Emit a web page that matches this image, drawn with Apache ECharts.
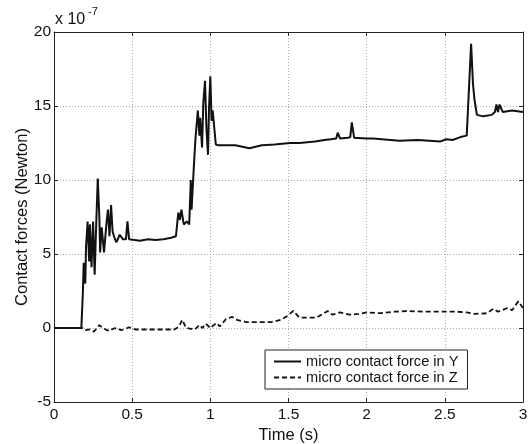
<!DOCTYPE html>
<html>
<head>
<meta charset="utf-8">
<script src="https://cdn.jsdelivr.net/npm/echarts@6/dist/echarts.min.js"></script>
<style>
html,body{margin:0;padding:0;background:#fff;}
#chart{width:528px;height:444px;}
</style>
</head>
<body>
<div id="chart"></div>
<script>
// Values in units of 1e-7 N
const seriesNames = ["micro contact force in Y", "micro contact force in Z"];
const xTicks = [0, 0.5, 1, 1.5, 2, 2.5, 3];
const yTicks = [-5, 0, 5, 10, 15, 20];

const yTime = [0, 0.175, 0.185, 0.19, 0.2, 0.205, 0.215, 0.225, 0.23, 0.24, 0.25, 0.26, 0.27, 0.28, 0.29, 0.295, 0.305, 0.32, 0.335, 0.345, 0.355, 0.365, 0.375, 0.39, 0.4, 0.42, 0.44, 0.46, 0.47, 0.48, 0.55, 0.6, 0.65, 0.7, 0.75, 0.78, 0.795, 0.805, 0.815, 0.83, 0.85, 0.865, 0.875, 0.88, 0.885, 0.895, 0.905, 0.92, 0.93, 0.935, 0.947, 0.955, 0.966, 0.975, 0.985, 0.992, 1.0, 1.008, 1.015, 1.035, 1.05, 1.1, 1.16, 1.25, 1.33, 1.41, 1.51, 1.57, 1.67, 1.73, 1.77, 1.805, 1.815, 1.83, 1.88, 1.895, 1.905, 1.92, 2.0, 2.04, 2.21, 2.33, 2.47, 2.51, 2.55, 2.6, 2.64, 2.652, 2.668, 2.68, 2.69, 2.705, 2.745, 2.8, 2.82, 2.83, 2.84, 2.85, 2.87, 2.93, 3.0];
const yForce = [0, 0, 2.5, 4.4, 3.0, 5.5, 7.2, 4.5, 7.0, 4.1, 7.2, 3.6, 7.0, 10.1, 7.5, 5.1, 6.8, 5.1, 7.0, 8.0, 6.2, 8.3, 6.5, 6.0, 5.8, 6.3, 6.0, 6.0, 7.2, 6.0, 5.9, 6.0, 5.95, 6.0, 6.1, 6.2, 7.8, 7.3, 8.0, 7.0, 7.2, 7.0, 10.0, 8.0, 9.0, 11.0, 12.8, 14.7, 13.0, 14.2, 12.2, 15.2, 16.7, 13.5, 11.7, 15.0, 17.0, 14.0, 14.7, 12.4, 12.35, 12.35, 12.35, 12.15, 12.35, 12.4, 12.5, 12.5, 12.6, 12.7, 12.75, 12.8, 13.2, 12.8, 12.85, 12.9, 13.9, 12.85, 12.8, 12.8, 12.65, 12.7, 12.6, 12.75, 12.7, 12.9, 13.0, 13.1, 19.2, 16.5, 15.4, 14.4, 14.3, 14.4, 14.6, 15.1, 14.6, 15.1, 14.6, 14.7, 14.6];

const zTime = [0, 0.18, 0.2, 0.23, 0.255, 0.29, 0.31, 0.35, 0.38, 0.4, 0.43, 0.46, 0.48, 0.52, 0.6, 0.7, 0.77, 0.8, 0.82, 0.845, 0.9, 0.93, 0.95, 0.97, 1.0, 1.04, 1.06, 1.1, 1.14, 1.17, 1.23, 1.32, 1.39, 1.45, 1.49, 1.53, 1.57, 1.68, 1.75, 1.78, 1.83, 1.89, 1.95, 2.0, 2.09, 2.18, 2.26, 2.36, 2.45, 2.51, 2.58, 2.64, 2.69, 2.77, 2.81, 2.84, 2.9, 2.93, 2.97, 3.0];
const zForce = [0, 0, -0.15, -0.1, -0.25, 0.2, 0, -0.2, -0.05, 0, -0.15, -0.05, 0.05, -0.1, -0.1, -0.1, -0.1, 0.1, 0.55, 0, -0.1, 0.2, 0, 0.3, 0, 0.35, 0.1, 0.6, 0.75, 0.55, 0.4, 0.4, 0.4, 0.55, 0.8, 1.15, 0.7, 0.7, 1.15, 0.9, 1.05, 0.9, 0.95, 1.05, 1.0, 1.1, 1.15, 1.1, 1.1, 1.1, 1.1, 1.05, 0.95, 1.0, 1.3, 1.1, 1.35, 1.2, 1.8, 1.35];

const FONT = "Liberation Sans, Arial, sans-serif";
const pairs = (t, v) => t.map((x, i) => [x, v[i]]);

const chart = echarts.init(document.getElementById('chart'), null, {renderer: 'canvas'});

const baseAxis = {
  type: 'value',
  axisLine: {show: true, onZero: false, lineStyle: {color: '#222', width: 1}},
  axisTick: {show: true, inside: true, length: 4, lineStyle: {color: '#222'}},
  splitLine: {show: false},
  axisLabel: {show: false},
};

chart.setOption({
  backgroundColor: '#fff',
  animation: false,
  grid: {left: 54, right: 5, top: 32, bottom: 42, containLabel: false, outerBoundsMode: 'none'},
  xAxis: [
    Object.assign({}, baseAxis, {
      position: 'bottom', min: xTicks[0], max: xTicks[xTicks.length - 1], interval: 0.5,
      name: 'Time (s)', nameLocation: 'middle', nameGap: 25, nameMoveOverlap: false,
      nameTextStyle: {fontFamily: FONT, fontSize: 16.5, color: '#111'},
      axisLabel: {show: true, fontFamily: FONT, fontSize: 15.5, color: '#111', margin: 5},
      splitLine: {show: true, lineStyle: {type: [1, 2], color: '#aaa', width: 1}}
    }),
    Object.assign({}, baseAxis, {
      position: 'top', min: xTicks[0], max: xTicks[xTicks.length - 1], interval: 0.5
    })
  ],
  yAxis: [
    Object.assign({}, baseAxis, {
      position: 'left', min: yTicks[0], max: yTicks[yTicks.length - 1], interval: 5,
      name: 'Contact forces (Newton)', nameLocation: 'middle', nameGap: 23, nameMoveOverlap: false,
      nameTextStyle: {fontFamily: FONT, fontSize: 16.5, color: '#111'},
      axisLabel: {show: true, fontFamily: FONT, fontSize: 15.5, color: '#111', margin: 3},
      splitLine: {show: true, lineStyle: {type: [1, 2], color: '#aaa', width: 1}}
    }),
    Object.assign({}, baseAxis, {
      position: 'right', min: yTicks[0], max: yTicks[yTicks.length - 1], interval: 5
    })
  ],
  legend: {
    orient: 'vertical',
    left: 265, top: 350,
    backgroundColor: '#fff',
    borderColor: '#222', borderWidth: 1,
    padding: [4, 9, 4, 8],
    itemWidth: 27, itemHeight: 14, itemGap: 1,
    itemStyle: {opacity: 0, borderWidth: 0},
    textStyle: {fontFamily: FONT, fontSize: 14.6, color: '#111'},
    data: seriesNames
  },
  graphic: [
    {type: 'text', left: 55, top: 12, style: {text: 'x 10', fontFamily: FONT, fontSize: 16, fill: '#111'}},
    {type: 'text', left: 88, top: 6, style: {text: '-7', fontFamily: FONT, fontSize: 11, fill: '#111'}}
  ],
  series: [
    {
      name: seriesNames[0], type: 'line', xAxisIndex: 0, yAxisIndex: 0,
      data: pairs(yTime, yForce), showSymbol: false, symbol: 'none',
      lineStyle: {color: '#111', width: 2}, itemStyle: {color: '#111'}
    },
    {
      name: seriesNames[1], type: 'line', xAxisIndex: 0, yAxisIndex: 0,
      data: pairs(zTime, zForce), showSymbol: false, symbol: 'none',
      lineStyle: {color: '#111', width: 1.8, type: [5, 3]}, itemStyle: {color: '#111'}
    }
  ]
});
</script>
</body>
</html>
